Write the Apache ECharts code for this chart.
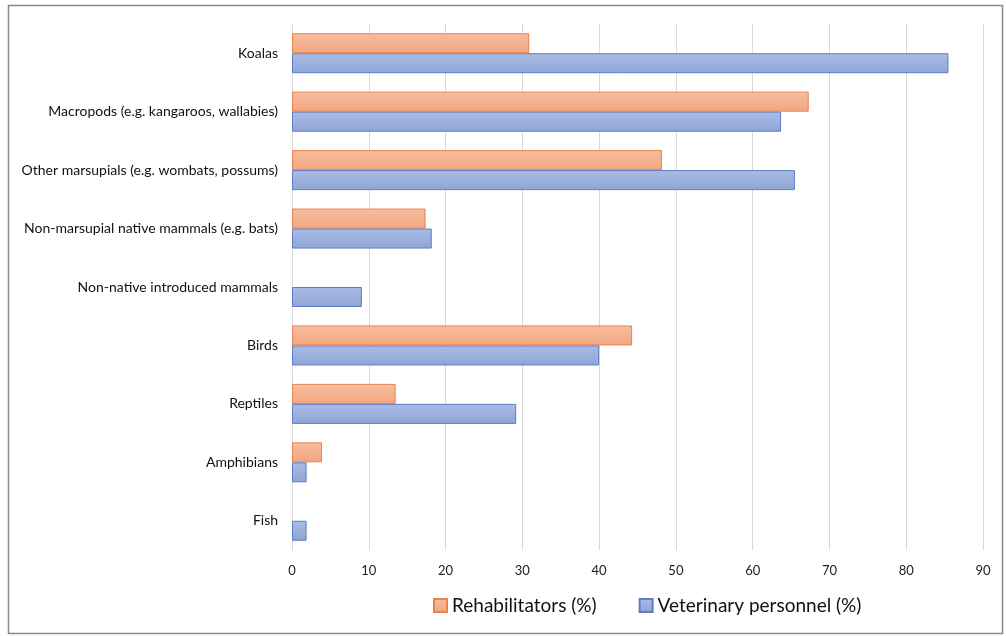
<!DOCTYPE html>
<html>
<head>
<meta charset="utf-8">
<script src="https://cdn.jsdelivr.net/npm/echarts@6/dist/echarts.min.js"></script>
<style>
  html, body { margin: 0; padding: 0; background: #fff; }
  #main { width: 1006px; height: 636px; }
</style>
</head>
<body>
<div id="main"></div>
<script>
// categories, top to bottom as in the picture
const categories = [
  'Koalas',
  'Macropods (e.g. kangaroos, wallabies)',
  'Other marsupials (e.g. wombats, possums)',
  'Non-marsupial native mammals (e.g. bats)',
  'Non-native introduced mammals',
  'Birds',
  'Reptiles',
  'Amphibians',
  'Fish'
]
const rehabilitators = [30.9, 67.3, 48.2, 17.4, 0, 44.3, 13.5, 3.9, 0]
const veterinary = [85.5, 63.7, 65.5, 18.2, 9.1, 40.0, 29.2, 1.9, 1.9]
const xTicks = [0, 10, 20, 30, 40, 50, 60, 70, 80, 90]

const font = 'Lato, "Open Sans", sans-serif'

// zero -> no bar at all (otherwise the border draws a sliver)
const noZero = arr => arr.map(v => (v === 0 ? '-' : v))

// Excel-ish gradient fills
const orangeFill = new echarts.graphic.LinearGradient(0, 0, 0, 1, [
  { offset: 0, color: '#f7bd9f' },
  { offset: 1, color: '#f2a681' }
])
const blueFill = new echarts.graphic.LinearGradient(0, 0, 0, 1, [
  { offset: 0, color: '#a9bce4' },
  { offset: 1, color: '#8ea5d8' }
])

const myChart = echarts.init(document.getElementById('main'))
myChart.setOption({
  animation: false,
  graphic: [{
    type: 'rect',
    shape: { x: 8.5, y: 5.5, width: 994, height: 628 },
    style: { fill: 'none', stroke: '#8a8a8a', lineWidth: 1.5 }
  }],
  legend: {
    data: ['Rehabilitators (%)', 'Veterinary personnel (%)'],
    left: 428,
    top: 591,
    itemWidth: 13,
    itemHeight: 13,
    itemGap: 42,
    icon: 'rect',
    textStyle: { fontFamily: font, fontSize: 19, color: '#111' }
  },
  grid: { left: 292, right: 23, top: 24, bottom: 86 },
  xAxis: {
    type: 'value',
    min: xTicks[0],
    max: xTicks[xTicks.length - 1],
    interval: 10,
    axisLine: { show: false },
    axisTick: { show: false },
    axisLabel: { fontFamily: font, fontSize: 13, color: '#222', margin: 14 },
    splitLine: { lineStyle: { color: '#d9d9d9', width: 1 } }
  },
  yAxis: {
    type: 'category',
    data: categories,
    inverse: true,
    axisLine: { lineStyle: { color: '#d9d9d9' } },
    axisTick: { show: false },
    axisLabel: { fontFamily: font, fontSize: 14, color: '#111', margin: 14 }
  },
  series: [
    {
      name: 'Rehabilitators (%)',
      type: 'bar',
      data: noZero(rehabilitators),
      barWidth: 20,
      barGap: '0%',
      itemStyle: { color: orangeFill, borderColor: '#e8834f', borderWidth: 1 }
    },
    {
      name: 'Veterinary personnel (%)',
      type: 'bar',
      data: noZero(veterinary),
      barWidth: 20,
      barGap: '0%',
      itemStyle: { color: blueFill, borderColor: '#5f7cc4', borderWidth: 1 }
    }
  ]
})
</script>
</body>
</html>
